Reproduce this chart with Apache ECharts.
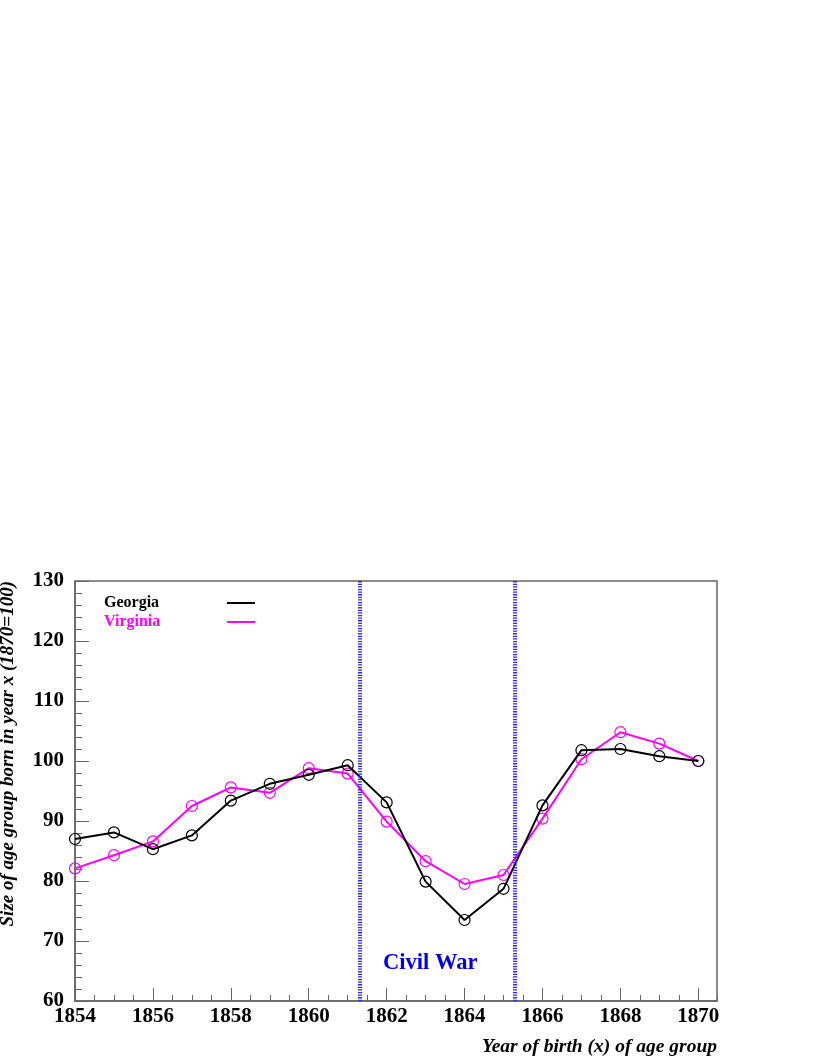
<!DOCTYPE html>
<html>
<head>
<meta charset="utf-8">
<script src="https://cdn.jsdelivr.net/npm/echarts@6/dist/echarts.min.js"></script>
<style>html,body{margin:0;padding:0;background:#fff}#chart{width:817px;height:1058px}</style>
</head>
<body>
<div id="chart"></div>
<script>
const years = [1854,1855,1856,1857,1858,1859,1860,1861,1862,1863,1864,1865,1866,1867,1868,1869,1870];
const georgia = [87.0,88.1,85.3,87.6,93.4,96.2,97.7,99.3,93.1,79.9,73.5,78.7,92.6,101.8,102.0,100.8,100.0];
const virginia = [82.1,84.3,86.6,92.5,95.6,94.7,98.8,97.9,89.9,83.3,79.5,81.0,90.4,100.3,104.8,102.9,100.0];
const civilWarBounds = [1861.3, 1865.3];
const seriesNames = ['Georgia','Virginia'];
const xTitle = 'Year of birth (x) of age group';
const yTitle = 'Size of age group born in year x (1870=100)';
const annotation = 'Civil War';
const xRange = [1854, 1870.48];
const yRange = [60, 130];

const serif = 'Liberation Serif, Times New Roman, serif';
const chart = echarts.init(document.getElementById('chart'), null, {renderer:'canvas'});
const pair = (arr) => years.map((y,i)=>[y,arr[i]]);
const axisGray = '#666';
const G = {left:75, top:581, width:642, height:420};
const xLabelFmt = v => (Math.abs(v - Math.round(v)) < 1e-6 && Math.round(v) % 2 === 0) ? String(Math.round(v)) : '';

chart.setOption({
  animation:false,
  backgroundColor:'#fff',
  grid:{left:G.left, top:G.top, width:G.width, height:G.height, show:true, borderColor:axisGray, borderWidth:1.5, backgroundColor:'transparent'},
  xAxis:[{
    type:'value', min:xRange[0], max:xRange[1], interval:2,
    axisLine:{show:true, lineStyle:{color:axisGray, width:1.5}},
    axisTick:{show:true, inside:true, length:13, lineStyle:{color:axisGray}},
    minorTick:{show:false},
    splitLine:{show:false},
    axisLabel:{fontFamily:serif, fontWeight:'bold', fontSize:21, color:'#000', margin:5, formatter:xLabelFmt, showMaxLabel:false},
    name:xTitle, nameLocation:'end', nameGap:0,
    nameTextStyle:{fontFamily:serif, fontStyle:'italic', fontWeight:'bold', fontSize:19.5, color:'#000', align:'right', verticalAlign:'top', padding:[36,0,0,0]}
  },{
    type:'value', min:xRange[0], max:xRange[1], interval:0.5, position:'bottom',
    axisLine:{show:false},
    axisTick:{show:true, inside:true, length:6, lineStyle:{color:axisGray}},
    axisLabel:{show:false},
    splitLine:{show:false}
  }],
  yAxis:{
    type:'value', min:yRange[0], max:yRange[1], interval:10,
    axisLine:{show:true, lineStyle:{color:axisGray, width:1.5}},
    axisTick:{show:true, inside:true, length:14, lineStyle:{color:axisGray}},
    minorTick:{show:true, splitNumber:5, length:7, lineStyle:{color:axisGray}},
    splitLine:{show:false},
    axisLabel:{fontFamily:serif, fontWeight:'bold', fontSize:21, color:'#000', margin:11}
  },
  series:[
    {name:seriesNames[0], type:'line', data:pair(georgia), symbol:'circle', symbolSize:11, showSymbol:true,
     itemStyle:{color:'rgba(0,0,0,0)', borderColor:'#000', borderWidth:1.2},
     lineStyle:{color:'#000', width:2}, z:3,
     markLine:{silent:true, symbol:'none', label:{show:false},
       lineStyle:{color:'#2a2aff', width:4, type:[1.3,1.3]},
       data:civilWarBounds.map(v=>({xAxis:v}))}},
    {name:seriesNames[1], type:'line', data:pair(virginia), symbol:'circle', symbolSize:11, showSymbol:true,
     itemStyle:{color:'rgba(0,0,0,0)', borderColor:'#ff00ff', borderWidth:1.2},
     lineStyle:{color:'#ff00ff', width:2}, z:2}
  ],
  graphic:[
    {type:'text', x:8, y:581, rotation:Math.PI/2,
     style:{text:yTitle, fontFamily:serif, fontStyle:'italic', fontWeight:'bold', fontSize:19, fill:'#000', textAlign:'right', textVerticalAlign:'middle'}},
    {type:'text', left:104, top:595, style:{text:seriesNames[0], fontFamily:serif, fontWeight:'bold', fontSize:16, fill:'#000'}},
    {type:'text', left:104, top:614, style:{text:seriesNames[1], fontFamily:serif, fontWeight:'bold', fontSize:16, fill:'#ff00ff'}},
    {type:'line', shape:{x1:227, y1:603, x2:255, y2:603}, style:{stroke:'#000', lineWidth:2}},
    {type:'line', shape:{x1:227, y1:622, x2:255, y2:622}, style:{stroke:'#ff00ff', lineWidth:2}},
    {type:'text', left:383, top:952, style:{text:annotation, fontFamily:serif, fontWeight:'bold', fontSize:22.5, fill:'#0000ee'}}
  ]
});
</script>
</body>
</html>
